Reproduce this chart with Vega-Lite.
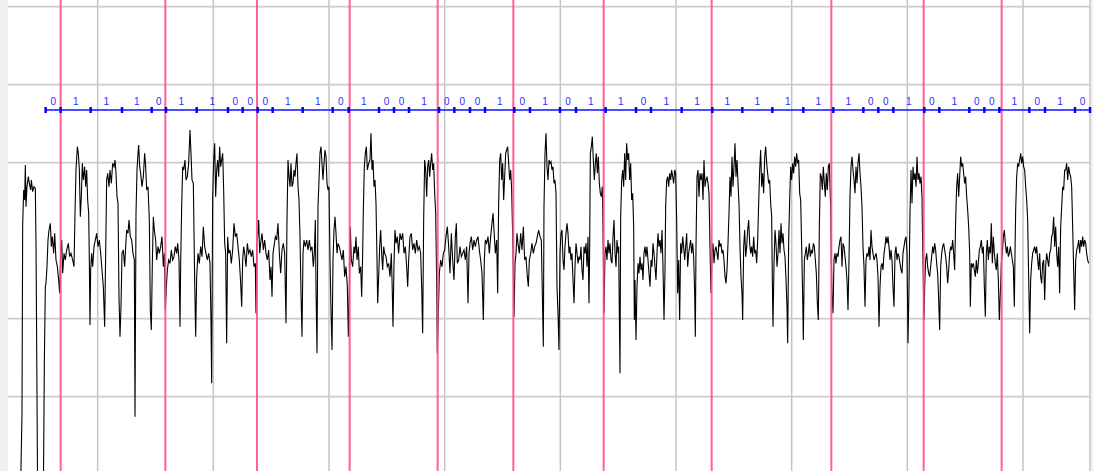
{
 "$schema": "https://vega.github.io/schema/vega-lite/v6.json",
 "width": 1083,
 "height": 471,
 "autosize": {"type": "none"},
 "padding": {"left": 8, "top": 0, "right": 2, "bottom": 0},
 "background": "#f0f0f0",
 "config": {"view": {"stroke": null, "fill": "#ffffff"}},
 "datasets": {
  "vgrid": [{"s":293},{"s":640},{"s":987},{"s":1334},{"s":1681},{"s":2028},{"s":2375},{"s":2722},{"s":3069},{"s":3270}],
  "hgrid": [{"c":-468},{"c":-234},{"c":234},{"c":468},{"c":702}],
  "pinks": [{"s":182},{"s":496},{"s":771},{"s":1049},{"s":1313},{"s":1540},{"s":1811},{"s":2135},{"s":2494},{"s":2771},{"s":3005}],
  "bounds": [{"s":137},{"s":182},{"s":272},{"s":366},{"s":455},{"s":498},{"s":590},{"s":684},{"s":728},{"s":773},{"s":818},{"s":908},{"s":998},{"s":1046},{"s":1137},{"s":1182},{"s":1227},{"s":1317},{"s":1363},{"s":1410},{"s":1455},{"s":1543},{"s":1590},{"s":1680},{"s":1728},{"s":1817},{"s":1908},{"s":1953},{"s":2045},{"s":2137},{"s":2227},{"s":2317},{"s":2410},{"s":2500},{"s":2590},{"s":2635},{"s":2680},{"s":2773},{"s":2818},{"s":2908},{"s":2953},{"s":2998},{"s":3088},{"s":3135},{"s":3225},{"s":3270}],
  "bits": [{"s":159.5,"bit":"0"},{"s":227,"bit":"1"},{"s":319,"bit":"1"},{"s":410.5,"bit":"1"},{"s":476.5,"bit":"0"},{"s":544,"bit":"1"},{"s":637,"bit":"1"},{"s":706,"bit":"0"},{"s":750.5,"bit":"0"},{"s":795.5,"bit":"0"},{"s":863,"bit":"1"},{"s":953,"bit":"1"},{"s":1022,"bit":"0"},{"s":1091.5,"bit":"1"},{"s":1159.5,"bit":"0"},{"s":1204.5,"bit":"0"},{"s":1272,"bit":"1"},{"s":1340,"bit":"0"},{"s":1386.5,"bit":"0"},{"s":1432.5,"bit":"0"},{"s":1499,"bit":"1"},{"s":1566.5,"bit":"0"},{"s":1635,"bit":"1"},{"s":1704,"bit":"0"},{"s":1772.5,"bit":"1"},{"s":1862.5,"bit":"1"},{"s":1930.5,"bit":"0"},{"s":1999,"bit":"1"},{"s":2091,"bit":"1"},{"s":2182,"bit":"1"},{"s":2272,"bit":"1"},{"s":2363.5,"bit":"1"},{"s":2455,"bit":"1"},{"s":2545,"bit":"1"},{"s":2612.5,"bit":"0"},{"s":2657.5,"bit":"0"},{"s":2726.5,"bit":"1"},{"s":2795.5,"bit":"0"},{"s":2863,"bit":"1"},{"s":2930.5,"bit":"0"},{"s":2975.5,"bit":"0"},{"s":3043,"bit":"1"},{"s":3111.5,"bit":"0"},{"s":3180,"bit":"1"},{"s":3247.5,"bit":"0"}],
  "signal": [
{"s":61,"c":-788},{"s":66,"c":-518},{"s":68,"c":47},{"s":71,"c":152},{"s":74,"c":122},{"s":76,"c":227},{"s":78,"c":102},{"s":81,"c":162},{"s":85,"c":192},{"s":88,"c":172},{"s":92,"c":152},{"s":94,"c":182},{"s":98,"c":147},{"s":102,"c":162},{"s":106,"c":157},{"s":108,"c":-8},{"s":110,"c":-308},{"s":113,"c":-788},{"s":130,"c":-788},{"s":133,"c":-368},{"s":136,"c":-138},{"s":138,"c":-128},{"s":141,"c":-78},{"s":144,"c":2},{"s":147,"c":32},{"s":151,"c":52},{"s":154,"c":-18},{"s":157,"c":12},{"s":161,"c":-38},{"s":164,"c":22},{"s":168,"c":-58},{"s":172,"c":-78},{"s":176,"c":-118},{"s":179,"c":-158},{"s":182,"c":-38},{"s":185,"c":2},{"s":188,"c":-98},{"s":192,"c":-38},{"s":196,"c":-58},{"s":200,"c":-28},{"s":205,"c":-8},{"s":209,"c":-48},{"s":213,"c":-38},{"s":218,"c":-58},{"s":222,"c":-78},{"s":225,"c":82},{"s":228,"c":212},{"s":232,"c":282},{"s":235,"c":262},{"s":238,"c":212},{"s":241,"c":72},{"s":244,"c":132},{"s":247,"c":232},{"s":250,"c":182},{"s":254,"c":222},{"s":257,"c":162},{"s":260,"c":212},{"s":263,"c":122},{"s":266,"c":82},{"s":268,"c":-58},{"s":270,"c":-253},{"s":272,"c":-88},{"s":275,"c":-38},{"s":278,"c":-78},{"s":282,"c":-18},{"s":286,"c":2},{"s":290,"c":22},{"s":294,"c":-18},{"s":298,"c":2},{"s":302,"c":-38},{"s":306,"c":-88},{"s":310,"c":-138},{"s":314,"c":-258},{"s":317,"c":-38},{"s":320,"c":182},{"s":323,"c":202},{"s":327,"c":162},{"s":330,"c":212},{"s":334,"c":172},{"s":338,"c":232},{"s":342,"c":222},{"s":345,"c":242},{"s":348,"c":202},{"s":351,"c":132},{"s":354,"c":112},{"s":357,"c":-168},{"s":360,"c":-288},{"s":363,"c":-198},{"s":366,"c":-38},{"s":370,"c":-28},{"s":374,"c":-78},{"s":377,"c":-18},{"s":380,"c":32},{"s":384,"c":22},{"s":387,"c":62},{"s":391,"c":12},{"s":395,"c":2},{"s":399,"c":-38},{"s":403,"c":-58},{"s":405,"c":-528},{"s":408,"c":82},{"s":411,"c":212},{"s":414,"c":262},{"s":416,"c":287},{"s":419,"c":222},{"s":422,"c":202},{"s":426,"c":162},{"s":430,"c":192},{"s":434,"c":262},{"s":437,"c":222},{"s":440,"c":152},{"s":444,"c":162},{"s":448,"c":62},{"s":451,"c":-208},{"s":454,"c":-268},{"s":457,"c":-68},{"s":460,"c":72},{"s":463,"c":32},{"s":467,"c":2},{"s":470,"c":-58},{"s":474,"c":-18},{"s":478,"c":-38},{"s":482,"c":-18},{"s":486,"c":12},{"s":490,"c":-78},{"s":493,"c":-38},{"s":496,"c":-208},{"s":499,"c":-138},{"s":502,"c":-88},{"s":506,"c":-58},{"s":510,"c":-68},{"s":514,"c":-28},{"s":518,"c":-58},{"s":522,"c":-48},{"s":526,"c":-18},{"s":530,"c":-38},{"s":533,"c":-8},{"s":537,"c":-58},{"s":540,"c":-258},{"s":542,"c":-68},{"s":545,"c":102},{"s":548,"c":222},{"s":551,"c":212},{"s":555,"c":242},{"s":558,"c":182},{"s":562,"c":192},{"s":566,"c":232},
{"s":570,"c":332},{"s":573,"c":262},{"s":576,"c":182},{"s":580,"c":172},{"s":584,"c":-118},{"s":587,"c":-288},{"s":590,"c":-108},{"s":594,"c":-38},{"s":598,"c":-68},{"s":602,"c":-18},{"s":606,"c":-48},{"s":610,"c":42},{"s":614,"c":-18},{"s":618,"c":-38},{"s":622,"c":-58},{"s":626,"c":-38},{"s":630,"c":-68},{"s":633,"c":-248},{"s":635,"c":-428},{"s":638,"c":132},{"s":641,"c":242},{"s":644,"c":292},{"s":647,"c":132},{"s":650,"c":212},{"s":653,"c":242},{"s":656,"c":192},{"s":659,"c":282},{"s":662,"c":222},{"s":665,"c":242},{"s":668,"c":262},{"s":671,"c":152},{"s":674,"c":-8},{"s":677,"c":-38},{"s":680,"c":-308},{"s":683,"c":12},{"s":686,"c":-38},{"s":690,"c":-28},{"s":694,"c":-68},{"s":698,"c":-28},{"s":702,"c":52},{"s":706,"c":12},{"s":710,"c":22},{"s":714,"c":-18},{"s":718,"c":-58},{"s":722,"c":-128},{"s":725,"c":-198},{"s":728,"c":-58},{"s":731,"c":-18},{"s":734,"c":-38},{"s":738,"c":-78},{"s":742,"c":-8},{"s":746,"c":-38},{"s":750,"c":-28},{"s":754,"c":-48},{"s":758,"c":-28},{"s":762,"c":-78},{"s":766,"c":-68},{"s":768,"c":-218},{"s":770,"c":-18},{"s":773,"c":12},{"s":776,"c":62},{"s":779,"c":-38},{"s":782,"c":-8},{"s":786,"c":22},{"s":790,"c":-28},{"s":794,"c":2},{"s":798,"c":-38},{"s":802,"c":-58},{"s":806,"c":-28},{"s":810,"c":-118},{"s":813,"c":-78},{"s":816,"c":-168},{"s":819,"c":-38},{"s":822,"c":-18},{"s":826,"c":12},{"s":830,"c":2},{"s":834,"c":52},{"s":838,"c":-38},{"s":842,"c":-98},{"s":846,"c":-28},{"s":850,"c":-8},{"s":854,"c":-38},{"s":858,"c":-248},{"s":861,"c":62},{"s":864,"c":242},{"s":867,"c":192},{"s":870,"c":162},{"s":873,"c":232},{"s":876,"c":162},{"s":879,"c":172},{"s":882,"c":212},{"s":885,"c":192},{"s":888,"c":232},{"s":891,"c":262},{"s":894,"c":162},{"s":897,"c":122},{"s":900,"c":12},{"s":903,"c":-158},{"s":906,"c":-288},{"s":909,"c":-38},{"s":912,"c":2},{"s":916,"c":-18},{"s":920,"c":2},{"s":924,"c":-28},{"s":928,"c":2},{"s":932,"c":-28},{"s":936,"c":-18},{"s":940,"c":-78},{"s":943,"c":-38},{"s":946,"c":62},{"s":948,"c":-138},{"s":951,"c":-338},{"s":954,"c":102},{"s":957,"c":182},{"s":960,"c":262},{"s":963,"c":282},{"s":966,"c":232},{"s":969,"c":182},{"s":972,"c":232},{"s":975,"c":272},{"s":978,"c":252},{"s":981,"c":172},{"s":984,"c":152},{"s":987,"c":162},{"s":990,"c":-58},{"s":993,"c":-208},{"s":996,"c":-328},{"s":999,"c":-58},{"s":1002,"c":32},{"s":1005,"c":72},{"s":1008,"c":22},{"s":1011,"c":-38},{"s":1014,"c":-8},{"s":1018,"c":-18},{"s":1022,"c":-38},{"s":1026,"c":-58},{"s":1030,"c":-28},{"s":1034,"c":-108},{"s":1038,"c":-78},{"s":1042,"c":-138},{"s":1045,"c":-288},{"s":1048,"c":-138},{"s":1051,"c":42},{"s":1054,"c":-58},{"s":1058,"c":-78},{"s":1062,"c":-18},{"s":1065,"c":-38},{"s":1068,"c":12},{"s":1071,"c":-58},{"s":1075,"c":-18},{"s":1078,"c":-98},{"s":1082,"c":-78},{"s":1085,"c":-168},{"s":1088,"c":-38},{"s":1090,"c":92},{"s":1093,"c":222},{"s":1096,"c":262},{"s":1099,"c":282},{"s":1102,"c":212},{"s":1106,"c":232},
{"s":1110,"c":242},{"s":1113,"c":322},{"s":1116,"c":212},{"s":1119,"c":242},{"s":1122,"c":162},{"s":1125,"c":182},{"s":1128,"c":112},{"s":1131,"c":-58},{"s":1133,"c":-188},{"s":1136,"c":-108},{"s":1139,"c":-18},{"s":1142,"c":32},{"s":1145,"c":-38},{"s":1148,"c":-88},{"s":1151,"c":-18},{"s":1154,"c":-38},{"s":1158,"c":-48},{"s":1162,"c":-78},{"s":1166,"c":-68},{"s":1170,"c":-108},{"s":1174,"c":-38},{"s":1177,"c":-158},{"s":1179,"c":-258},{"s":1182,"c":-68},{"s":1185,"c":32},{"s":1188,"c":-8},{"s":1192,"c":12},{"s":1196,"c":-38},{"s":1200,"c":22},{"s":1204,"c":2},{"s":1208,"c":22},{"s":1212,"c":-38},{"s":1216,"c":-18},{"s":1220,"c":-78},{"s":1223,"c":-138},{"s":1226,"c":-58},{"s":1230,"c":12},{"s":1234,"c":22},{"s":1238,"c":-28},{"s":1242,"c":-8},{"s":1246,"c":-38},{"s":1250,"c":2},{"s":1254,"c":-28},{"s":1258,"c":-18},{"s":1262,"c":-38},{"s":1265,"c":-138},{"s":1268,"c":-278},{"s":1271,"c":62},{"s":1274,"c":242},{"s":1277,"c":212},{"s":1280,"c":132},{"s":1283,"c":222},{"s":1286,"c":242},{"s":1289,"c":192},{"s":1292,"c":232},{"s":1295,"c":262},{"s":1298,"c":212},{"s":1301,"c":232},{"s":1304,"c":142},{"s":1307,"c":82},{"s":1310,"c":-118},{"s":1312,"c":-338},{"s":1315,"c":-218},{"s":1318,"c":-98},{"s":1322,"c":-58},{"s":1326,"c":-78},{"s":1330,"c":-38},{"s":1334,"c":-28},{"s":1338,"c":12},{"s":1342,"c":42},{"s":1346,"c":-18},{"s":1350,"c":-98},{"s":1354,"c":22},{"s":1358,"c":-58},{"s":1362,"c":-118},{"s":1366,"c":12},{"s":1369,"c":52},{"s":1372,"c":-68},{"s":1376,"c":-58},{"s":1380,"c":-18},{"s":1384,"c":-48},{"s":1388,"c":-38},{"s":1392,"c":-28},{"s":1396,"c":-58},{"s":1400,"c":-18},{"s":1404,"c":-188},{"s":1407,"c":-38},{"s":1410,"c":-8},{"s":1414,"c":12},{"s":1418,"c":-28},{"s":1422,"c":2},{"s":1426,"c":-18},{"s":1430,"c":2},{"s":1434,"c":12},{"s":1438,"c":-28},{"s":1442,"c":-58},{"s":1446,"c":-98},{"s":1450,"c":-238},{"s":1453,"c":-58},{"s":1456,"c":2},{"s":1460,"c":-8},{"s":1464,"c":12},{"s":1468,"c":-38},{"s":1472,"c":12},{"s":1476,"c":52},{"s":1479,"c":82},{"s":1482,"c":32},{"s":1486,"c":-38},{"s":1490,"c":2},{"s":1493,"c":-158},{"s":1496,"c":112},{"s":1499,"c":242},{"s":1502,"c":262},{"s":1505,"c":182},{"s":1508,"c":232},{"s":1511,"c":122},{"s":1514,"c":192},{"s":1517,"c":262},{"s":1520,"c":272},{"s":1523,"c":282},{"s":1526,"c":232},{"s":1529,"c":182},{"s":1532,"c":212},{"s":1535,"c":152},{"s":1537,"c":62},{"s":1539,"c":-28},{"s":1542,"c":-228},{"s":1545,"c":-68},{"s":1548,"c":-38},{"s":1551,"c":22},{"s":1554,"c":-8},{"s":1558,"c":-38},{"s":1562,"c":22},{"s":1566,"c":-28},{"s":1570,"c":42},{"s":1574,"c":-58},{"s":1578,"c":-48},{"s":1582,"c":-108},{"s":1585,"c":-138},{"s":1588,"c":-58},{"s":1592,"c":-38},{"s":1596,"c":-8},{"s":1600,"c":-38},{"s":1604,"c":-18},{"s":1608,"c":-8},{"s":1612,"c":12},{"s":1616,"c":32},{"s":1620,"c":12},{"s":1624,"c":2},{"s":1627,"c":-158},{"s":1630,"c":-318},{"s":1632,"c":102},{"s":1635,"c":262},{"s":1638,"c":322},{"s":1641,"c":222},{"s":1644,"c":182},{"s":1647,"c":242},
{"s":1650,"c":232},{"s":1653,"c":237},{"s":1656,"c":212},{"s":1659,"c":222},{"s":1662,"c":172},{"s":1665,"c":182},{"s":1668,"c":142},{"s":1671,"c":-138},{"s":1674,"c":-218},{"s":1677,"c":-328},{"s":1680,"c":-38},{"s":1683,"c":22},{"s":1686,"c":32},{"s":1689,"c":-58},{"s":1692,"c":-88},{"s":1695,"c":-18},{"s":1698,"c":22},{"s":1701,"c":52},{"s":1704,"c":22},{"s":1707,"c":-38},{"s":1710,"c":-18},{"s":1713,"c":-58},{"s":1716,"c":-38},{"s":1719,"c":-118},{"s":1722,"c":-188},{"s":1725,"c":-78},{"s":1728,"c":-8},{"s":1731,"c":-38},{"s":1734,"c":-68},{"s":1737,"c":-48},{"s":1740,"c":-58},{"s":1743,"c":-18},{"s":1746,"c":-88},{"s":1749,"c":-118},{"s":1752,"c":-18},{"s":1755,"c":-38},{"s":1758,"c":-8},{"s":1761,"c":-78},{"s":1764,"c":12},{"s":1767,"c":-188},{"s":1769,"c":-18},{"s":1771,"c":262},{"s":1774,"c":282},{"s":1777,"c":312},{"s":1780,"c":242},{"s":1783,"c":182},{"s":1786,"c":232},{"s":1789,"c":262},{"s":1792,"c":202},{"s":1795,"c":252},{"s":1798,"c":172},{"s":1801,"c":142},{"s":1804,"c":132},{"s":1807,"c":162},{"s":1810,"c":-38},{"s":1812,"c":-218},{"s":1815,"c":-38},{"s":1818,"c":-18},{"s":1821,"c":-58},{"s":1824,"c":2},{"s":1827,"c":-38},{"s":1830,"c":-8},{"s":1833,"c":-58},{"s":1836,"c":-68},{"s":1839,"c":12},{"s":1842,"c":62},{"s":1845,"c":-38},{"s":1848,"c":-78},{"s":1851,"c":2},{"s":1854,"c":-38},{"s":1856,"c":-18},{"s":1858,"c":-218},{"s":1860,"c":-398},{"s":1862,"c":72},{"s":1865,"c":182},{"s":1868,"c":212},{"s":1871,"c":162},{"s":1874,"c":262},{"s":1877,"c":182},{"s":1880,"c":292},{"s":1883,"c":242},{"s":1886,"c":262},{"s":1889,"c":182},{"s":1892,"c":232},{"s":1895,"c":122},{"s":1898,"c":142},{"s":1901,"c":42},{"s":1903,"c":-238},{"s":1905,"c":-118},{"s":1908,"c":-298},{"s":1911,"c":-138},{"s":1914,"c":-68},{"s":1917,"c":-98},{"s":1920,"c":-48},{"s":1923,"c":-88},{"s":1926,"c":-68},{"s":1929,"c":-118},{"s":1932,"c":-38},{"s":1935,"c":-18},{"s":1938,"c":-48},{"s":1941,"c":-18},{"s":1944,"c":-58},{"s":1947,"c":-98},{"s":1950,"c":-138},{"s":1953,"c":-58},{"s":1956,"c":-78},{"s":1959,"c":-8},{"s":1962,"c":-38},{"s":1965,"c":-78},{"s":1968,"c":-118},{"s":1971,"c":-38},{"s":1974,"c":22},{"s":1977,"c":-18},{"s":1980,"c":2},{"s":1983,"c":-38},{"s":1986,"c":32},{"s":1989,"c":-78},{"s":1992,"c":-238},{"s":1995,"c":-88},{"s":1997,"c":102},{"s":2000,"c":182},{"s":2003,"c":192},{"s":2006,"c":162},{"s":2009,"c":202},{"s":2012,"c":182},{"s":2015,"c":212},{"s":2018,"c":192},{"s":2021,"c":172},{"s":2024,"c":212},{"s":2027,"c":202},{"s":2030,"c":62},{"s":2033,"c":-158},{"s":2036,"c":-58},{"s":2039,"c":-238},{"s":2042,"c":-8},{"s":2045,"c":-38},{"s":2048,"c":12},{"s":2051,"c":-18},{"s":2054,"c":-58},{"s":2057,"c":-18},{"s":2060,"c":22},{"s":2063,"c":-78},{"s":2066,"c":-38},{"s":2069,"c":-18},{"s":2072,"c":2},{"s":2075,"c":-38},{"s":2078,"c":-8},{"s":2081,"c":-48},{"s":2084,"c":-158},{"s":2086,"c":-288},{"s":2088,"c":-18},{"s":2091,"c":192},{"s":2094,"c":212},{"s":2097,"c":132},{"s":2100,"c":202},{"s":2103,"c":182},{"s":2106,"c":202},{"s":2109,"c":122},{"s":2112,"c":242},{"s":2115,"c":162},{"s":2118,"c":182},{"s":2121,"c":192},{"s":2124,"c":172},{"s":2127,"c":142},{"s":2130,"c":-18},{"s":2133,"c":-158},{"s":2136,"c":-38},{"s":2139,"c":-8},{"s":2142,"c":-68},{"s":2145,"c":-28},{"s":2148,"c":-18},{"s":2151,"c":-38},{"s":2154,"c":-58},{"s":2157,"c":2},{"s":2160,"c":-18},{"s":2163,"c":-8},{"s":2166,"c":-38},{"s":2169,"c":-28},{"s":2172,"c":-58},{"s":2175,"c":-108},{"s":2178,"c":-128},{"s":2181,"c":-88},{"s":2184,"c":-8},{"s":2187,"c":82},
{"s":2190,"c":192},{"s":2193,"c":132},{"s":2196,"c":252},{"s":2199,"c":162},{"s":2202,"c":222},{"s":2205,"c":292},{"s":2208,"c":192},{"s":2211,"c":242},{"s":2214,"c":172},{"s":2217,"c":112},{"s":2220,"c":-18},{"s":2223,"c":-108},{"s":2226,"c":-158},{"s":2228,"c":-238},{"s":2231,"c":-18},{"s":2234,"c":32},{"s":2237,"c":-48},{"s":2240,"c":-18},{"s":2243,"c":32},{"s":2246,"c":62},{"s":2249,"c":-8},{"s":2252,"c":-38},{"s":2255,"c":-18},{"s":2258,"c":-48},{"s":2261,"c":12},{"s":2264,"c":-38},{"s":2267,"c":-28},{"s":2270,"c":-68},{"s":2273,"c":2},{"s":2276,"c":112},{"s":2279,"c":212},{"s":2282,"c":272},{"s":2285,"c":162},{"s":2288,"c":202},{"s":2291,"c":142},{"s":2294,"c":252},{"s":2297,"c":282},{"s":2300,"c":232},{"s":2303,"c":202},{"s":2306,"c":172},{"s":2309,"c":182},{"s":2312,"c":112},{"s":2315,"c":72},{"s":2317,"c":-118},{"s":2319,"c":-258},{"s":2322,"c":-68},{"s":2325,"c":32},{"s":2328,"c":-8},{"s":2331,"c":-78},{"s":2334,"c":-38},{"s":2337,"c":32},{"s":2340,"c":-38},{"s":2343,"c":52},{"s":2346,"c":-8},{"s":2349,"c":22},{"s":2352,"c":-28},{"s":2355,"c":-48},{"s":2358,"c":-118},{"s":2361,"c":-198},{"s":2363,"c":-308},{"s":2366,"c":2},{"s":2369,"c":122},{"s":2372,"c":222},{"s":2375,"c":182},{"s":2378,"c":232},{"s":2381,"c":202},{"s":2384,"c":252},{"s":2387,"c":222},{"s":2390,"c":262},{"s":2393,"c":232},{"s":2396,"c":242},{"s":2399,"c":142},{"s":2402,"c":122},{"s":2405,"c":-18},{"s":2408,"c":-168},{"s":2410,"c":-298},{"s":2413,"c":-58},{"s":2416,"c":-38},{"s":2419,"c":-18},{"s":2422,"c":-58},{"s":2425,"c":-38},{"s":2428,"c":-8},{"s":2431,"c":-48},{"s":2434,"c":-28},{"s":2437,"c":-38},{"s":2440,"c":-8},{"s":2443,"c":-18},{"s":2446,"c":-58},{"s":2449,"c":-98},{"s":2452,"c":-188},{"s":2455,"c":-238},{"s":2458,"c":42},{"s":2461,"c":202},{"s":2464,"c":192},{"s":2467,"c":152},{"s":2470,"c":222},{"s":2473,"c":172},{"s":2476,"c":132},{"s":2479,"c":202},{"s":2482,"c":152},{"s":2485,"c":222},{"s":2488,"c":232},{"s":2490,"c":162},{"s":2492,"c":102},{"s":2494,"c":-58},{"s":2496,"c":-158},{"s":2499,"c":-218},{"s":2502,"c":-58},{"s":2505,"c":-38},{"s":2508,"c":-68},{"s":2511,"c":-38},{"s":2514,"c":-48},{"s":2517,"c":-18},{"s":2520,"c":2},{"s":2523,"c":12},{"s":2526,"c":-78},{"s":2529,"c":-8},{"s":2532,"c":-18},{"s":2535,"c":-48},{"s":2538,"c":-78},{"s":2541,"c":-118},{"s":2544,"c":-208},{"s":2547,"c":-58},{"s":2550,"c":132},{"s":2553,"c":222},{"s":2556,"c":252},{"s":2559,"c":212},{"s":2562,"c":182},{"s":2565,"c":142},{"s":2568,"c":222},{"s":2571,"c":172},{"s":2574,"c":232},{"s":2577,"c":262},{"s":2580,"c":202},{"s":2583,"c":162},{"s":2586,"c":102},{"s":2589,"c":-18},{"s":2592,"c":-78},{"s":2595,"c":-198},{"s":2598,"c":-58},{"s":2601,"c":-38},{"s":2604,"c":-48},{"s":2607,"c":-18},{"s":2610,"c":-58},{"s":2613,"c":32},{"s":2616,"c":-18},{"s":2619,"c":-38},{"s":2622,"c":-58},{"s":2625,"c":-48},{"s":2628,"c":-38},{"s":2631,"c":-58},{"s":2634,"c":-108},{"s":2637,"c":-258},{"s":2640,"c":-138},{"s":2643,"c":-78},{"s":2646,"c":-68},{"s":2649,"c":-88},{"s":2652,"c":-38},{"s":2655,"c":-18},{"s":2658,"c":12},{"s":2661,"c":-8},{"s":2664,"c":12},{"s":2667,"c":-18},{"s":2670,"c":-58},{"s":2673,"c":-28},{"s":2676,"c":-58},{"s":2679,"c":-138},{"s":2682,"c":-198},{"s":2685,"c":-38},{"s":2688,"c":-18},{"s":2691,"c":-58},{"s":2694,"c":-38},{"s":2697,"c":-48},{"s":2700,"c":-68},{"s":2703,"c":-88},{"s":2706,"c":-98},{"s":2709,"c":-38},{"s":2712,"c":-18},{"s":2715,"c":2},{"s":2718,"c":12},{"s":2721,"c":-38},
{"s":2724,"c":-308},{"s":2727,"c":-138},{"s":2730,"c":82},{"s":2733,"c":212},{"s":2736,"c":112},{"s":2739,"c":222},{"s":2742,"c":182},{"s":2745,"c":202},{"s":2748,"c":162},{"s":2751,"c":252},{"s":2754,"c":182},{"s":2757,"c":202},{"s":2760,"c":172},{"s":2763,"c":192},{"s":2766,"c":132},{"s":2768,"c":-8},{"s":2770,"c":-118},{"s":2772,"c":-238},{"s":2774,"c":-138},{"s":2777,"c":-58},{"s":2780,"c":-38},{"s":2783,"c":-78},{"s":2786,"c":-98},{"s":2789,"c":-108},{"s":2792,"c":-78},{"s":2795,"c":-48},{"s":2798,"c":-18},{"s":2801,"c":-38},{"s":2804,"c":-8},{"s":2807,"c":-28},{"s":2810,"c":-68},{"s":2813,"c":-98},{"s":2816,"c":-178},{"s":2819,"c":-268},{"s":2822,"c":-78},{"s":2825,"c":-38},{"s":2828,"c":-18},{"s":2831,"c":-8},{"s":2834,"c":-28},{"s":2837,"c":-48},{"s":2840,"c":-78},{"s":2843,"c":-128},{"s":2846,"c":-88},{"s":2849,"c":-38},{"s":2852,"c":-18},{"s":2855,"c":-28},{"s":2858,"c":2},{"s":2861,"c":-38},{"s":2864,"c":-88},{"s":2867,"c":62},{"s":2870,"c":162},{"s":2873,"c":202},{"s":2876,"c":132},{"s":2879,"c":192},{"s":2882,"c":252},{"s":2885,"c":222},{"s":2888,"c":232},{"s":2891,"c":202},{"s":2894,"c":172},{"s":2897,"c":192},{"s":2900,"c":132},{"s":2903,"c":92},{"s":2906,"c":42},{"s":2909,"c":-38},{"s":2911,"c":-198},{"s":2914,"c":-68},{"s":2917,"c":-78},{"s":2920,"c":-68},{"s":2923,"c":-88},{"s":2926,"c":-108},{"s":2929,"c":-58},{"s":2932,"c":-98},{"s":2935,"c":-68},{"s":2938,"c":-28},{"s":2941,"c":-18},{"s":2944,"c":2},{"s":2947,"c":-38},{"s":2950,"c":-18},{"s":2953,"c":-138},{"s":2956,"c":-228},{"s":2959,"c":-38},{"s":2962,"c":2},{"s":2965,"c":-58},{"s":2968,"c":-18},{"s":2971,"c":-38},{"s":2974,"c":52},{"s":2977,"c":-68},{"s":2980,"c":12},{"s":2983,"c":-38},{"s":2986,"c":-68},{"s":2989,"c":-88},{"s":2992,"c":-38},{"s":2995,"c":-118},{"s":2998,"c":-238},{"s":3001,"c":-158},{"s":3004,"c":-68},{"s":3007,"c":-38},{"s":3010,"c":12},{"s":3013,"c":32},{"s":3016,"c":-8},{"s":3019,"c":-38},{"s":3022,"c":-18},{"s":3025,"c":-48},{"s":3028,"c":-38},{"s":3031,"c":-18},{"s":3034,"c":-38},{"s":3037,"c":-58},{"s":3040,"c":-78},{"s":3043,"c":-198},{"s":3045,"c":-38},{"s":3047,"c":92},{"s":3050,"c":192},{"s":3053,"c":232},{"s":3056,"c":222},{"s":3059,"c":242},{"s":3062,"c":262},{"s":3065,"c":232},{"s":3068,"c":252},{"s":3071,"c":222},{"s":3074,"c":212},{"s":3077,"c":162},{"s":3080,"c":122},{"s":3083,"c":62},{"s":3086,"c":-108},{"s":3089,"c":-278},{"s":3092,"c":-118},{"s":3095,"c":-68},{"s":3098,"c":-38},{"s":3101,"c":-28},{"s":3104,"c":-18},{"s":3107,"c":-38},{"s":3110,"c":-18},{"s":3113,"c":-58},{"s":3116,"c":-88},{"s":3119,"c":-38},{"s":3122,"c":-108},{"s":3125,"c":-128},{"s":3128,"c":-68},{"s":3131,"c":-58},{"s":3134,"c":-178},{"s":3137,"c":-78},{"s":3140,"c":-38},{"s":3143,"c":-58},{"s":3146,"c":-78},{"s":3149,"c":-38},{"s":3152,"c":-28},{"s":3155,"c":12},{"s":3158,"c":22},{"s":3161,"c":72},{"s":3164,"c":-18},{"s":3167,"c":42},{"s":3170,"c":-38},{"s":3173,"c":-78},{"s":3176,"c":-18},{"s":3179,"c":-158},{"s":3182,"c":42},{"s":3185,"c":102},{"s":3188,"c":162},{"s":3191,"c":152},{"s":3194,"c":212},{"s":3197,"c":212},{"s":3200,"c":232},{"s":3203,"c":182},{"s":3206,"c":222},{"s":3209,"c":202},{"s":3212,"c":192},{"s":3215,"c":162},{"s":3218,"c":42},{"s":3221,"c":-88},{"s":3224,"c":-208},{"s":3227,"c":-58},{"s":3230,"c":-28},{"s":3233,"c":-18},{"s":3236,"c":2},{"s":3239,"c":-38},{"s":3242,"c":2},{"s":3245,"c":-18},{"s":3248,"c":12},{"s":3251,"c":-18},{"s":3254,"c":2},{"s":3257,"c":-8},{"s":3260,"c":-38},{"s":3263,"c":-58},{"s":3266,"c":-68}
  ]
 },
 "layer": [
  {
   "data": {"name": "vgrid"},
   "mark": {"type": "rule", "color": "#c4c4c4", "strokeWidth": 1.5},
   "encoding": {"x": {"field": "s", "type": "quantitative", "scale": {"domain": [24, 3273], "nice": false, "zero": false}, "axis": null}}
  },
  {
   "data": {"name": "hgrid"},
   "mark": {"type": "rule", "color": "#cccccc", "strokeWidth": 1.6},
   "encoding": {"y": {"field": "c", "type": "quantitative", "scale": {"domain": [-691, 722], "nice": false, "zero": false}, "axis": null}}
  },
  {
   "mark": {"type": "rule", "color": "#9a9a9a", "strokeWidth": 1.6},
   "encoding": {"y": {"datum": 0, "type": "quantitative", "axis": null}}
  },
  {
   "data": {"name": "signal"},
   "mark": {"type": "line", "color": "#000000", "strokeWidth": 1.1, "clip": true},
   "encoding": {
    "x": {"field": "s", "type": "quantitative", "axis": null},
    "y": {"field": "c", "type": "quantitative", "axis": null}
   }
  },
  {
   "data": {"name": "pinks"},
   "mark": {"type": "rule", "color": "#ff4f8c", "strokeWidth": 2, "opacity": 0.9},
   "encoding": {"x": {"field": "s", "type": "quantitative", "axis": null}}
  },
  {
   "data": {"name": "bounds"},
   "mark": {"type": "line", "color": "#1010ff", "strokeWidth": 1.5},
   "encoding": {
    "x": {"field": "s", "type": "quantitative", "axis": null},
    "y": {"datum": 392, "type": "quantitative", "axis": null}
   }
  },
  {
   "data": {"name": "bounds"},
   "mark": {"type": "rule", "color": "#0000ff", "strokeWidth": 2.5},
   "encoding": {
    "x": {"field": "s", "type": "quantitative", "axis": null},
    "y": {"datum": 383, "type": "quantitative", "axis": null},
    "y2": {"datum": 401}
   }
  },
  {
   "data": {"name": "bits"},
   "mark": {"type": "text", "color": "#2a2aff", "font": "Liberation Sans", "fontSize": 10, "baseline": "middle", "align": "center"},
   "encoding": {
    "x": {"field": "s", "type": "quantitative", "axis": null},
    "y": {"datum": 417, "type": "quantitative", "axis": null},
    "text": {"field": "bit"}
   }
  }
 ]
}
